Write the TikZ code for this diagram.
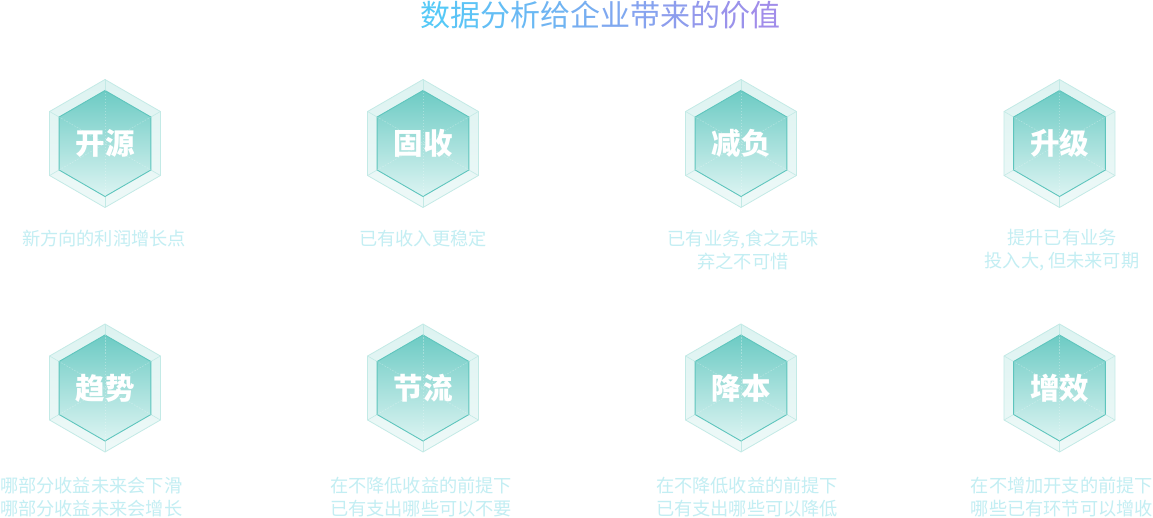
\documentclass[tikz,border=0pt]{standalone}
\usepackage{fontspec}
\setmainfont{Noto Sans CJK SC}
\usetikzlibrary{calc}
\definecolor{desc}{HTML}{C3EEF3}
\definecolor{tA}{HTML}{55C9F7}
\definecolor{tB}{HTML}{A18DEA}
\definecolor{hexTop}{HTML}{6DCBC4}
\definecolor{hexBot}{HTML}{DCF4F2}
\definecolor{hexLine}{HTML}{5EC5BD}
\definecolor{ringTop}{HTML}{DDF3F1}
\definecolor{ringBot}{HTML}{EEF9F8}
\definecolor{ringLine}{HTML}{C3EAE6}
\tikzset{
  desctext/.style={font=\fontsize{18.2}{23}\selectfont, text=desc, align=center, inner sep=0pt},
  hexlabel/.style={font=\fontsize{29.5}{32}\selectfont\bfseries, text=white, inner sep=0pt},
  titletext/.style={font=\fontsize{30}{34}\selectfont, inner sep=0pt},
  ring/.style={top color=ringTop, bottom color=ringBot, draw=ringLine, line width=0.8pt},
  core/.style={top color=hexTop, bottom color=hexBot, draw=hexLine, line width=0.9pt},
  spoke/.style={draw=white, opacity=0.3, line width=0.6pt, dash pattern=on 1.5pt off 1.5pt},
  rib/.style={draw=ringLine, line width=0.6pt}
}
\newcommand\hexcell[3]{%
  \begin{scope}[shift={(#2)}]
    \path[ring] (90:64) -- (150:64) -- (210:64) -- (270:64) -- (330:64) -- (30:64) -- cycle;
    \foreach \a in {30,90,150,210,270,330} \draw[rib] (\a:53) -- (\a:64);
    \path[core] (90:53) -- (150:53) -- (210:53) -- (270:53) -- (330:53) -- (30:53) -- cycle;
    \foreach \a in {30,90,150} \draw[spoke] (\a:53) -- (\a+180:53);
  \end{scope}
  \node[hexlabel] (#1) at (#2) {#3};
}
\begin{document}
\begin{tikzpicture}[x=1pt,y=-1pt]
\useasboundingbox[fill=white] (0,0) rectangle (1153,518);

\node[titletext] (title) at (600,15) {%
\textcolor{tB!0!tA}{数}\textcolor{tB!9!tA}{据}\textcolor{tB!18!tA}{分}\textcolor{tB!27!tA}{析}%
\textcolor{tB!36!tA}{给}\textcolor{tB!45!tA}{企}\textcolor{tB!55!tA}{业}\textcolor{tB!64!tA}{带}%
\textcolor{tB!73!tA}{来}\textcolor{tB!82!tA}{的}\textcolor{tB!91!tA}{价}\textcolor{tB!100!tA}{值}};

\hexcell{h1}{105,143.5}{开源}
\hexcell{h2}{423,143.5}{固收}
\hexcell{h3}{741,143.5}{减负}
\hexcell{h4}{1059.5,143.5}{升级}
\hexcell{h5}{105,388}{趋势}
\hexcell{h6}{423,388}{节流}
\hexcell{h7}{741,388}{降本}
\hexcell{h8}{1059.5,388}{增效}

\node[desctext] (d1) at (104,239) {新方向的利润增长点};
\node[desctext] (d2) at (423,239) {已有收入更稳定};
\node[desctext] (d3) at (743,250.5) {已有业务,食之无味\\弃之不可惜};
\node[desctext] (d4) at (1062,250.5) {提升已有业务\\投入大, 但未来可期};
\node[desctext, anchor=west] (d5) at (0,497.5) {哪部分收益未来会下滑\\哪部分收益未来会增长};
\node[desctext] (d6) at (421,497.5) {在不降低收益的前提下\\已有支出哪些可以不要};
\node[desctext] (d7) at (747,497.5) {在不降低收益的前提下\\已有支出哪些可以降低};
\node[desctext, anchor=east] (d8) at (1153,497.5) {在不增加开支的前提下\\哪些已有环节可以增收};
\end{tikzpicture}
\end{document}
